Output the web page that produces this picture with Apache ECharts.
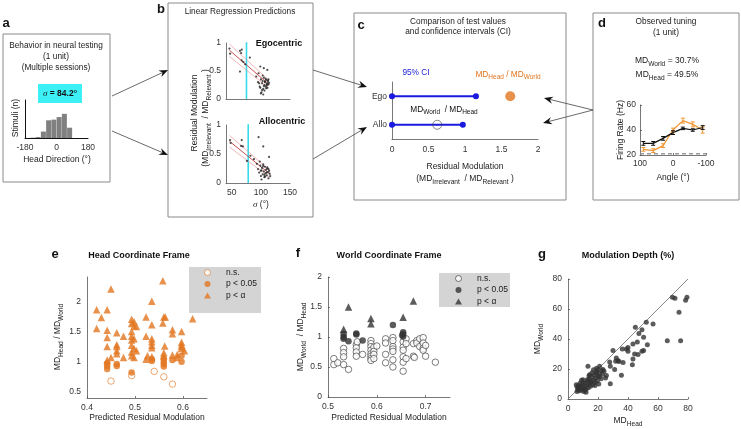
<!DOCTYPE html>
<html><head><meta charset="utf-8">
<script src="https://cdn.jsdelivr.net/npm/echarts@6/dist/echarts.min.js"></script>
<style>html,body{margin:0;padding:0;background:#fff}#c{width:741px;height:429px}</style>
</head><body><div id="c"></div>
<script>
// ---------------- DATA ----------------
// a: stimulus head-direction histogram
const histBinCenters = [-135,-105,-75,-45,-15,15,45,75];
const histCounts = [1,3,20,55,57,65,75,32];
const sigmaObserved = 84.2;
// b: linear regression predictions (sigma, residual modulation)
const egoSigma = [46,47,64,66,67,64,67,70,81,73,99,105,111,96,92,95,98,100,101,102,103,104,105,106,107,108,109,110,111,112,113,114,100,103,106,108,110,112,97,99,104,107,109,111,113,102,105];
const egoResid = [0.90,0.81,0.86,0.82,0.88,0.49,0.69,0.66,0.74,0.62,0.58,0.55,0.52,0.46,0.40,0.30,0.22,0.35,0.12,0.28,0.32,0.18,0.38,0.25,0.30,0.22,0.34,0.27,0.20,0.31,0.26,0.29,0.10,0.42,0.15,0.36,0.24,0.33,0.28,0.20,0.08,0.31,0.19,0.26,0.35,0.16,0.23];
const egoFitX = [46,114];
const egoFitMid = [0.87,0.26];
const egoFitUp = [0.98,0.33];
const egoFitLo = [0.76,0.19];
const alloSigma = [47,48,67,66,69,76,96,104,114,82,88,93,95,97,99,100,101,102,103,104,105,106,107,108,109,110,111,112,113,114,115,116,98,101,104,107,110,113,100,106,111];
const alloResid = [0.74,0.69,0.74,0.64,0.63,0.38,0.79,0.63,0.45,0.47,0.41,0.33,0.24,0.18,0.30,0.12,0.22,0.26,0.15,0.32,0.20,0.10,0.28,0.17,0.23,0.13,0.25,0.19,0.08,0.21,0.16,0.12,0.37,0.06,0.29,0.11,0.18,0.24,0.21,0.14,0.27];
const alloFitX = [46,116];
const alloFitMid = [0.72,0.15];
const alloFitUp = [0.82,0.21];
const alloFitLo = [0.62,0.09];
// c: CIs and test values
const ciRows = ['Allo','Ego'];
const ciEgo = [0, 1.15];
const ciAllo = [0, 0.97];
const testEgo = 1.62;   // MD_Head / MD_World
const testAllo = 0.62;  // MD_World / MD_Head
// d: observed tuning
const tuneAngles = [90,60,30,0,-30,-60,-90];
const rateWorld = [29.3,29.3,33.3,37.9,41.3,40.0,42.0];
const errWorld = [1.5,1.5,1.5,1.5,1.0,1.0,1.5];
const rateHead = [24.5,23.5,27.5,40.0,47.5,44.5,40.0];
const errHead = [1.5,1.5,1.5,1.5,2.0,2.0,2.5];
const baselineRate = 21;
// e: head coordinate frame
const eNS = [[0.45,0.68],[0.493,0.77],[0.54,0.84],[0.56,0.75],[0.578,0.63]];
const eSig = [[0.442,0.97],[0.442,0.93],[0.442,0.88],[0.462,0.96],[0.462,0.93],[0.493,0.82],[0.535,1.04],[0.535,1.01],[0.56,1.05],[0.56,1.0],[0.56,0.96],[0.56,0.92],[0.578,1.03],[0.597,1.0],[0.597,1.10]];
const eAlpha = [[0.42,1.86],[0.42,1.55],[0.43,1.73],[0.442,1.86],[0.442,1.52],[0.442,1.40],[0.442,1.25],[0.442,1.03],[0.45,2.2],[0.45,1.07],[0.462,1.48],[0.462,1.28],[0.462,1.25],[0.462,1.18],[0.462,1.13],[0.476,1.42],[0.476,1.07],[0.493,1.70],[0.493,1.63],[0.493,1.50],[0.493,1.42],[0.493,1.36],[0.493,1.27],[0.493,1.16],[0.493,1.10],[0.498,1.66],[0.498,1.59],[0.498,1.38],[0.498,1.22],[0.498,1.07],[0.503,1.58],[0.503,1.18],[0.523,1.74],[0.523,1.42],[0.523,1.04],[0.526,1.10],[0.535,2.0],[0.535,1.61],[0.535,1.38],[0.535,1.33],[0.535,1.27],[0.535,1.23],[0.535,1.08],[0.558,2.34],[0.558,1.64],[0.56,1.74],[0.563,1.74],[0.562,1.26],[0.56,1.15],[0.56,1.10],[0.578,1.53],[0.578,1.46],[0.578,1.11],[0.588,1.12],[0.588,1.07],[0.597,1.50],[0.597,1.32],[0.597,1.28],[0.597,1.25],[0.597,1.22],[0.603,1.18],[0.62,1.71]];
// f: world coordinate frame
const fNS = [[0.512,0.64],[0.512,0.54],[0.52,0.57],[0.532,0.81],[0.532,0.74],[0.532,0.67],[0.532,0.54],[0.542,0.46],[0.558,0.87],[0.558,0.82],[0.558,0.75],[0.558,0.68],[0.56,0.92],[0.571,0.71],[0.588,0.94],[0.588,0.89],[0.588,0.84],[0.588,0.78],[0.588,0.72],[0.588,0.68],[0.588,0.64],[0.588,0.61],[0.594,0.83],[0.594,0.76],[0.594,0.71],[0.594,0.64],[0.6,0.85],[0.618,0.97],[0.618,0.9],[0.618,0.71],[0.618,0.57],[0.633,0.99],[0.633,0.94],[0.633,0.84],[0.633,0.80],[0.633,0.76],[0.633,0.62],[0.633,0.5],[0.654,0.92],[0.654,0.83],[0.654,0.78],[0.654,0.67],[0.654,0.58],[0.654,0.43],[0.66,0.97],[0.66,0.89],[0.66,0.64],[0.675,0.89],[0.675,0.68],[0.677,0.66],[0.682,0.94],[0.682,0.9],[0.688,0.97],[0.688,0.84],[0.695,0.99],[0.695,0.9],[0.695,0.81],[0.695,0.78],[0.7,0.68],[0.7,0.86],[0.72,0.58]];
const fSig = [[0.532,1.05],[0.532,1.0],[0.532,0.97],[0.542,0.93],[0.558,1.06],[0.558,1.04],[0.571,0.94],[0.633,1.2],[0.654,1.08],[0.654,1.05],[0.654,1.01],[0.652,1.03]];
const fAlpha = [[0.532,1.13],[0.542,1.50],[0.588,1.31],[0.588,1.22],[0.654,1.33],[0.675,1.6]];
// g: modulation depth (MD_Head, MD_World)
const gHead = [69.6,71.3,78.4,79.3,74,66.2,75.1,56.7,52.2,44.9,49.3,47.3,50.4,52.9,46.2,43.3,40,38.9,36.2,30,49.3,50.4,44.4,46.7,40,43.3,42.9,36.7,33.3,32.2,31.8,34,35.6,27.8,28.2,31.1,28.2,25.6,23.3,21.1,13.3,20,18.9,14.4,10,5.5,6,6.5,7,7.5,8,8.5,9,9.5,10,10.5,11,11.5,12,12.5,13,13.5,14,14.5,15,15.5,16,16.5,17,17.5,18,18.5,19,19.5,20,20.5,21,22,22.5,23,24,25,12,8,10,6,9,14,17,19,16,13,7,11,15,18,21];
const gWorld = [67.8,67.1,65.8,67.8,57.8,38.9,38.9,50,51.1,47.8,46.2,43.6,41.1,36.2,38,36.7,34.4,33.3,33.3,32.4,31.8,32.4,30,29.6,31.8,26.7,22.9,24.4,25.6,27.3,25.1,25,15.8,24.7,21.8,19.6,10.2,15.6,19.6,21.8,21.8,19.6,17.3,16.2,12.9,9.5,8,6,9,7.5,5.5,8.5,6.5,9,7,5,8,10.5,6.5,9,12,7.5,10,13,8.5,11.5,14.5,9.5,12.5,16,11,14,18,12,15,10,17,13.5,19,16.5,18.5,14,4.5,10.5,11,5,12.5,15.5,19.5,20.5,17.5,13,7,6,11,9,15];

// ---------------- HELPERS ----------------
const FF = '"Liberation Sans", Arial, Helvetica, sans-serif';
const ORANGE = '#E2751F';
const DARK = '#333333';
const AX = '#555555';
function rich(size, color, weight) {
  const ss = Math.round(size * 0.78 * 10) / 10;
  return {
    m: {fontSize: size, fontFamily: FF, fill: color, fontWeight: weight || 'normal', lineHeight: size + 5},
    s: {fontSize: ss, fontFamily: FF, fill: color, fontWeight: weight || 'normal', lineHeight: Math.round(ss), verticalAlign: 'bottom'},
    i: {fontSize: size + 0.5, fontFamily: '"Liberation Serif", "DejaVu Serif", serif', fontStyle: 'italic', fill: color, fontWeight: weight || 'normal', lineHeight: size + 5},
    b: {fontSize: size, fontFamily: FF, fill: color, fontWeight: 'bold', lineHeight: size + 5}
  };
}
function T(x, y, text, o) {
  o = o || {};
  const size = o.size || 8.3, color = o.color || '#222', al = o.align || 'center';
  return {type: 'text', x: x, y: y, rotation: o.rot || 0, z: 20, silent: true,
    style: {text: text, fill: color, fontSize: size, fontFamily: FF, fontWeight: o.weight || 'normal',
      textAlign: al, textVerticalAlign: 'middle', align: al, verticalAlign: 'middle', rich: rich(size, color, o.weight)}};
}
function box(x, y, w, h) {
  return {type: 'rect', shape: {x: x, y: y, width: w, height: h}, z: 1, silent: true,
    style: {fill: 'none', stroke: '#8a8a8a', lineWidth: 1}};
}
function arrow(x1, y1, x2, y2) {
  const a = Math.atan2(y2 - y1, x2 - x1), L = 9, W = 3.6, N = 6;
  const bx = x2 - L * Math.cos(a), by = y2 - L * Math.sin(a);
  const px = -Math.sin(a), py = Math.cos(a);
  const nx = x2 - N * Math.cos(a), ny = y2 - N * Math.sin(a);
  return [
    {type: 'line', silent: true, z: 5, shape: {x1: x1, y1: y1, x2: nx, y2: ny}, style: {stroke: '#444', lineWidth: 0.8}},
    {type: 'polygon', silent: true, z: 5, shape: {points: [[x2, y2], [bx + px * W, by + py * W], [nx, ny], [bx - px * W, by - py * W]]}, style: {fill: '#111'}}
  ];
}
function lab(extra) {
  return Object.assign({color: '#333', fontSize: 8.5, fontFamily: FF, margin: 4}, extra || {});
}
function axLine() { return {show: true, onZero: false, lineStyle: {color: AX, width: 0.8}}; }
function tickIn(show) { return {show: show !== false, inside: true, length: 2, lineStyle: {color: AX, width: 0.8}}; }
const halfFmt = v => (Math.abs(v * 2 - Math.round(v * 2)) < 1e-6 ? String(Math.round(v * 2) / 2) : '');
const fiftyFmt = v => (Math.abs(v % 50) < 1e-6 ? String(v) : '');
const pairs = (xs, ys) => xs.map((x, i) => [x, ys[i]]);

// ---------------- GRIDS ----------------
const G = (l, t, w, h) => ({left: l, top: t, width: w, height: h, containLabel: false, outerBoundsMode: 'none'});
const grid = [
  G(25, 100, 63, 38),   // 0 a
  G(226, 43, 64, 56),   // 1 b top
  G(226, 125, 64, 58),  // 2 b bottom
  G(392, 82, 146, 57),  // 3 c
  G(640, 105, 66, 50),  // 4 d
  G(87, 277, 120, 121), // 5 e
  G(328, 277, 122, 120),// 6 f
  G(568, 279, 120, 120) // 7 g
];
const xAxis = [
  {gridIndex: 0, type: 'value', min: -180, max: 180, interval: 180, axisLine: {show: true, onZero: false, lineStyle: {color: '#111', width: 1}}, axisTick: {show: false}, splitLine: {show: false}, axisLabel: lab({margin: 5, fontSize: 8.5})},
  {gridIndex: 1, type: 'value', min: 40, max: 150, interval: 10, axisLine: axLine(), axisTick: {show: false}, splitLine: {show: false}, axisLabel: {show: false}},
  {gridIndex: 2, type: 'value', min: 40, max: 150, interval: 10, axisLine: axLine(), axisTick: {show: false}, splitLine: {show: false}, axisLabel: lab({formatter: fiftyFmt, margin: 5})},
  {gridIndex: 3, type: 'value', min: 0, max: 2, interval: 0.5, axisLine: axLine(), axisTick: {show: false}, splitLine: {show: false}, axisLabel: lab({formatter: halfFmt, margin: 6})},
  {gridIndex: 4, type: 'value', min: -100, max: 100, interval: 100, inverse: true, axisLine: axLine(), axisTick: tickIn(), splitLine: {show: false}, axisLabel: lab({margin: 4})},
  {gridIndex: 5, type: 'value', min: 0.4, max: 0.65, interval: 0.1, axisLine: axLine(), axisTick: tickIn(), splitLine: {show: false}, axisLabel: lab({margin: 5, showMaxLabel: false})},
  {gridIndex: 6, type: 'value', min: 0.5, max: 0.75, interval: 0.1, axisLine: axLine(), axisTick: tickIn(), splitLine: {show: false}, axisLabel: lab({margin: 5, showMaxLabel: false})},
  {gridIndex: 7, type: 'value', min: 0, max: 80, interval: 20, axisLine: axLine(), axisTick: tickIn(), splitLine: {show: false}, axisLabel: lab({margin: 5})}
];
const yAxis = [
  {gridIndex: 0, type: 'value', min: 0, max: 118, axisLine: {show: true, onZero: false, lineStyle: {color: '#111', width: 1}}, axisTick: {show: false}, splitLine: {show: false}, axisLabel: {show: false}},
  {gridIndex: 1, type: 'value', min: 0, max: 1, interval: 0.5, axisLine: axLine(), axisTick: {show: false}, splitLine: {show: false}, axisLabel: lab({margin: 5})},
  {gridIndex: 2, type: 'value', min: 0, max: 1, interval: 0.5, axisLine: axLine(), axisTick: {show: false}, splitLine: {show: false}, axisLabel: lab({margin: 5})},
  {gridIndex: 3, type: 'category', data: ciRows, axisLine: axLine(), axisTick: {show: false}, splitLine: {show: false}, axisLabel: lab({margin: 5})},
  {gridIndex: 4, type: 'value', min: 20, max: 60, interval: 20, axisLine: axLine(), axisTick: tickIn(), splitLine: {show: false}, axisLabel: lab({margin: 4})},
  {gridIndex: 5, type: 'value', min: 0.4, max: 2.4, interval: 0.1, axisLine: axLine(), axisTick: {show: false}, splitLine: {show: false}, axisLabel: lab({margin: 6, formatter: halfFmt})},
  {gridIndex: 6, type: 'value', min: 0, max: 2, interval: 0.5, axisLine: axLine(), axisTick: tickIn(), splitLine: {show: false}, axisLabel: lab({margin: 6})},
  {gridIndex: 7, type: 'value', min: 0, max: 80, interval: 20, axisLine: axLine(), axisTick: tickIn(), splitLine: {show: false}, axisLabel: lab({margin: 6})}
];

// ---------------- SERIES ----------------
const thinRed = (xa, ya, xs, ys, w, c) => ({type: 'line', xAxisIndex: xa, yAxisIndex: ya, data: pairs(xs, ys), showSymbol: false, silent: true, lineStyle: {color: c, width: w}, z: 3});
const errBars = (xa, data, color) => ({
  type: 'custom', xAxisIndex: xa, yAxisIndex: xa, silent: true, z: 4, data: data,
  renderItem: (params, api) => {
    const x = api.value(0), lo = api.value(1), hi = api.value(2);
    const p1 = api.coord([x, lo]), p2 = api.coord([x, hi]);
    const st = {stroke: color, lineWidth: 1};
    return {type: 'group', children: [
      {type: 'line', shape: {x1: p1[0], y1: p1[1], x2: p2[0], y2: p2[1]}, style: st},
      {type: 'line', shape: {x1: p1[0] - 2, y1: p1[1], x2: p1[0] + 2, y2: p1[1]}, style: st},
      {type: 'line', shape: {x1: p2[0] - 2, y1: p2[1], x2: p2[0] + 2, y2: p2[1]}, style: st}
    ]};
  }
});
const series = [
  // a
  {type: 'bar', xAxisIndex: 0, yAxisIndex: 0, data: pairs(histBinCenters, histCounts), barWidth: 5, itemStyle: {color: '#808080'}, silent: true},
  // b top
  thinRed(1, 1, egoFitX, egoFitUp, 0.6, '#e88a8a'),
  thinRed(1, 1, egoFitX, egoFitLo, 0.6, '#e88a8a'),
  thinRed(1, 1, egoFitX, egoFitMid, 0.9, '#c23b3b'),
  {type: 'scatter', xAxisIndex: 1, yAxisIndex: 1, data: pairs(egoSigma, egoResid), symbolSize: 2.2, itemStyle: {color: '#222'}, silent: true, z: 4},
  {type: 'line', xAxisIndex: 1, yAxisIndex: 1, data: [[sigmaObserved - 9, 0], [sigmaObserved - 9, 1.04]], showSymbol: false, silent: true, lineStyle: {color: '#37D9EA', width: 1.6}, z: 2},
  // b bottom
  thinRed(2, 2, alloFitX, alloFitUp, 0.6, '#e88a8a'),
  thinRed(2, 2, alloFitX, alloFitLo, 0.6, '#e88a8a'),
  thinRed(2, 2, alloFitX, alloFitMid, 0.9, '#c23b3b'),
  {type: 'scatter', xAxisIndex: 2, yAxisIndex: 2, data: pairs(alloSigma, alloResid), symbolSize: 2.2, itemStyle: {color: '#222'}, silent: true, z: 4},
  {type: 'line', xAxisIndex: 2, yAxisIndex: 2, data: [[sigmaObserved - 6, 0], [sigmaObserved - 6, 1.04]], showSymbol: false, silent: true, lineStyle: {color: '#37D9EA', width: 1.6}, z: 2},
  // c
  {type: 'line', xAxisIndex: 3, yAxisIndex: 3, data: ciEgo.map(v => [v, 'Ego']), symbol: 'circle', symbolSize: 6, showSymbol: true, lineStyle: {color: '#1a1adf', width: 2.2}, itemStyle: {color: '#1a1adf'}, silent: true},
  {type: 'line', xAxisIndex: 3, yAxisIndex: 3, data: ciAllo.map(v => [v, 'Allo']), symbol: 'circle', symbolSize: 6, showSymbol: true, lineStyle: {color: '#1a1adf', width: 2.2}, itemStyle: {color: '#1a1adf'}, silent: true},
  {type: 'scatter', xAxisIndex: 3, yAxisIndex: 3, data: [[testAllo, 'Allo']], symbol: 'circle', symbolSize: 9, itemStyle: {color: 'rgba(255,255,255,0)', borderColor: '#444', borderWidth: 0.8}, silent: true, z: 5},
  {type: 'scatter', xAxisIndex: 3, yAxisIndex: 3, data: [[testEgo, 'Ego']], symbol: 'circle', symbolSize: 10, itemStyle: {color: ORANGE}, silent: true},
  // d
  {type: 'line', xAxisIndex: 4, yAxisIndex: 4, data: [[100, baselineRate], [-100, baselineRate]], showSymbol: false, silent: true, lineStyle: {color: '#9a9a9a', width: 1.6, type: [4, 3]}},
  {type: 'line', xAxisIndex: 4, yAxisIndex: 4, data: pairs(tuneAngles, rateHead), showSymbol: false, silent: true, lineStyle: {color: '#EE9633', width: 1.2}},
  errBars(4, tuneAngles.map((a, i) => [a, rateHead[i] - errHead[i], rateHead[i] + errHead[i]]), '#EE9633'),
  {type: 'line', xAxisIndex: 4, yAxisIndex: 4, data: pairs(tuneAngles, rateWorld), showSymbol: false, silent: true, lineStyle: {color: '#111', width: 1.2}},
  errBars(4, tuneAngles.map((a, i) => [a, rateWorld[i] - errWorld[i], rateWorld[i] + errWorld[i]]), '#111'),
  // e
  {name: 'n.s.', type: 'scatter', xAxisIndex: 5, yAxisIndex: 5, data: eNS, symbol: 'circle', symbolSize: 6.5, itemStyle: {color: '#fff', borderColor: ORANGE, borderWidth: 0.8}},
  {name: 'p < 0.05', type: 'scatter', xAxisIndex: 5, yAxisIndex: 5, data: eSig, symbol: 'circle', symbolSize: 6.5, itemStyle: {color: ORANGE}},
  {name: 'p < α', type: 'scatter', xAxisIndex: 5, yAxisIndex: 5, data: eAlpha, symbol: 'triangle', symbolSize: 7.5, itemStyle: {color: ORANGE}},
  // f
  {name: 'n.s. (f)', type: 'scatter', xAxisIndex: 6, yAxisIndex: 6, data: fNS, symbol: 'circle', symbolSize: 6.5, itemStyle: {color: '#fff', borderColor: DARK, borderWidth: 0.8}},
  {name: 'p < 0.05 (f)', type: 'scatter', xAxisIndex: 6, yAxisIndex: 6, data: fSig, symbol: 'circle', symbolSize: 6.5, itemStyle: {color: DARK}},
  {name: 'p < α (f)', type: 'scatter', xAxisIndex: 6, yAxisIndex: 6, data: fAlpha, symbol: 'triangle', symbolSize: 7.5, itemStyle: {color: DARK}},
  // g
  {type: 'line', xAxisIndex: 7, yAxisIndex: 7, data: [[0, 0], [80, 80]], showSymbol: false, silent: true, lineStyle: {color: '#888', width: 1}, z: 1},
  {type: 'scatter', xAxisIndex: 7, yAxisIndex: 7, data: pairs(gHead, gWorld), symbol: 'circle', symbolSize: 5, itemStyle: {color: DARK}, silent: true}
];

// ---------------- LEGENDS ----------------
const legBase = (left, top, names) => ({
  left: left, top: top, orient: 'vertical', itemWidth: 7, itemHeight: 6, itemGap: 2.5, padding: 0, z: 10,
  selectedMode: false, data: names,
  itemStyle: {borderWidth: 0.8},
  formatter: n => n.replace(' (f)', ''),
  textStyle: {fontSize: 8.5, fontFamily: FF, color: '#222', padding: [0, 0, 0, 10]}
});
const legend = [
  legBase(204, 268, ['n.s.', 'p < 0.05', 'p < α']),
  legBase(455, 274, ['n.s. (f)', 'p < 0.05 (f)', 'p < α (f)'])
];

// ---------------- GRAPHIC (boxes, arrows, text) ----------------
const MDW = '{m|MD}{s|World}';
const MDH = '{m|MD}{s|Head}';
const graphic = [].concat(
  [box(3, 34, 107, 148), box(168, 3, 145, 214), box(354, 13, 212, 187), box(593, 13, 146, 187)],
  [{type: 'rect', shape: {x: 189, y: 267, width: 72, height: 46}, z: 0, silent: true, style: {fill: '#d4d4d4'}},
   {type: 'rect', shape: {x: 439, y: 273, width: 71, height: 34}, z: 0, silent: true, style: {fill: '#d4d4d4'}},
   {type: 'rect', shape: {x: 38, y: 84, width: 44, height: 19}, z: 2, silent: true, style: {fill: '#3df0f6'}}],
  arrow(112, 96, 168, 70), arrow(112, 131, 168, 155),
  arrow(313, 70, 367, 87), arrow(313, 159, 367, 127),
  arrow(593, 110, 544, 98), arrow(593, 110, 543, 123),
  [
    // a
    T(6, 23, 'a', {size: 13, weight: 'bold', color: '#111'}),
    T(56, 46, 'Behavior in neural testing'),
    T(56, 57, '(1 unit)'),
    T(56, 68, '(Multiple sessions)'),
    T(60, 93.5, '{i|σ}{b| = 84.2°}', {size: 8.5, color: '#111'}),
    T(16, 118, 'Stimuli (n)', {rot: Math.PI / 2, size: 8.5}),
    T(57, 160, 'Head Direction (°)', {size: 8.5}),
    // b
    T(161, 9, 'b', {size: 13, weight: 'bold', color: '#111'}),
    T(240, 12, 'Linear Regression Predictions'),
    T(279, 44, 'Egocentric', {size: 9, weight: 'bold', color: '#111'}),
    T(282, 122, 'Allocentric', {size: 9, weight: 'bold', color: '#111'}),
    T(195, 113, 'Residual Modulation', {rot: Math.PI / 2, size: 8.5}),
    T(206, 118, '{m|(MD}{s|Irrelevant}{m|  / MD}{s|Relevant}{m| )}', {rot: Math.PI / 2, size: 8.5}),
    T(261, 205, '{i|σ}{m| (°)}', {size: 8.5}),
    // c
    T(361, 25, 'c', {size: 13, weight: 'bold', color: '#111'}),
    T(458, 22, 'Comparison of test values'),
    T(458, 32, 'and confidence intervals (CI)'),
    T(416, 73, '95% CI', {color: '#1a1adf'}),
    T(508, 74.5, MDH + '{m| / }' + MDW, {color: ORANGE}),
    T(444, 109.5, MDW + '{m|  / MD}{s|Head}', {color: '#111'}),
    T(465, 167, 'Residual Modulation', {size: 8.5}),
    T(465, 179, '{m|(MD}{s|Irrelevant}{m|  / MD}{s|Relevant}{m| )}', {size: 8.5}),
    // d
    T(602, 23, 'd', {size: 13, weight: 'bold', color: '#111'}),
    T(666, 22, 'Observed tuning'),
    T(666, 33, '(1 unit)'),
    T(667, 61, MDW + '{m| = 30.7%}', {size: 8.5}),
    T(667, 75, MDH + '{m| = 49.5%}', {size: 8.5}),
    T(621, 130, 'Firing Rate (Hz)', {rot: Math.PI / 2, size: 8.5}),
    T(673, 178, 'Angle (°)', {size: 8.5}),
    // e
    T(55, 254, 'e', {size: 13, weight: 'bold', color: '#111'}),
    T(139, 256, 'Head Coordinate Frame', {size: 9, weight: 'bold', color: '#111'}),
    T(58, 337, MDH + '{m| / }' + MDW, {rot: Math.PI / 2, size: 8.5}),
    T(147, 418, 'Predicted Residual Modulation', {size: 8.5}),
    // f
    T(298, 253, 'f', {size: 13, weight: 'bold', color: '#111'}),
    T(389, 256, 'World Coordinate Frame', {size: 9, weight: 'bold', color: '#111'}),
    T(301, 337, MDW + '{m|  / }' + MDH, {rot: Math.PI / 2, size: 8.5}),
    T(389, 418, 'Predicted Residual Modulation', {size: 8.5}),
    // g
    T(542, 254, 'g', {size: 13, weight: 'bold', color: '#111'}),
    T(628, 256, 'Modulation Depth (%)', {size: 9, weight: 'bold', color: '#111'}),
    T(538, 339, MDW, {rot: Math.PI / 2, size: 8.5}),
    T(628, 421, MDH, {size: 8.5})
  ]
);

const chart = echarts.init(document.getElementById('c'), null, {renderer: 'canvas'});
chart.setOption({
  animation: false,
  backgroundColor: '#ffffff',
  textStyle: {fontFamily: FF},
  grid: grid, xAxis: xAxis, yAxis: yAxis, series: series, legend: legend, graphic: graphic
});
</script>
</body></html>
